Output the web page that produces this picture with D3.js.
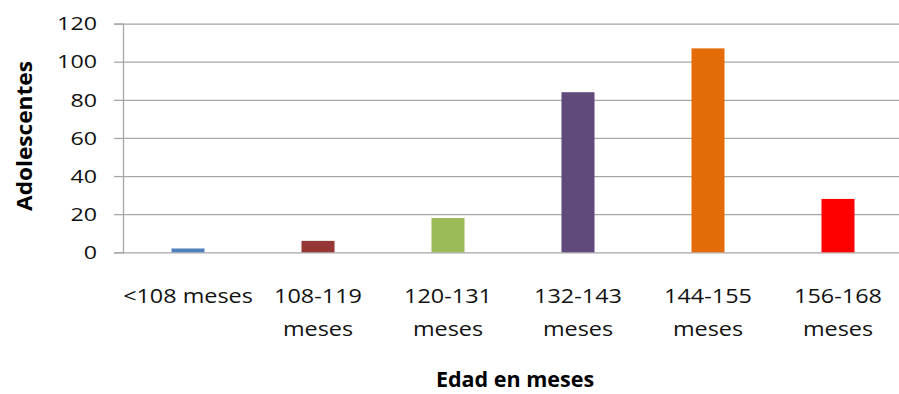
<!DOCTYPE html>
<html><head><meta charset="utf-8">
<script src="https://cdn.jsdelivr.net/npm/d3@7"></script>
<style>body{margin:0;background:#fff}svg{display:block}</style>
</head><body>
<svg id="c" width="899" height="394"></svg>
<script>
const categories = [["<108 meses"], ["108-119", "meses"], ["120-131", "meses"], ["132-143", "meses"], ["144-155", "meses"], ["156-168", "meses"]];
const values = [2, 6, 18, 84, 107, 28];
const colors = ["#4f81bd", "#953735", "#9bbb59", "#604a7b", "#e36c09", "#ff0000"];
const yTicks = [0, 20, 40, 60, 80, 100, 120];
const yTitle = "Adolescentes";
const xTitle = "Edad en meses";

const svg = d3.select("#c");
const L = 123, R = 903, T = 23.6, B = 252.3;
const FONT = "'Open Sans', sans-serif";
const keys = categories.map((c, i) => i);
const x = d3.scaleBand().domain(keys).range([L, R]).paddingInner(0.746).paddingOuter(0.373);
const y = d3.scaleLinear().domain([0, 120]).range([B, T]);

// gridlines + y axis
const yAxis = d3.axisLeft(y).tickValues(yTicks).tickSize(9).tickFormat("");
const gy = svg.append("g").attr("transform", `translate(${L},0)`).call(yAxis);
gy.select(".domain").attr("stroke", "#a6a6a6").attr("stroke-width", 1.3);
gy.selectAll(".tick line").attr("stroke", "#a6a6a6").attr("stroke-width", 1.3);
gy.selectAll(".tick").append("line").attr("x1", 0).attr("x2", R - L)
  .attr("stroke", "#a6a6a6").attr("stroke-width", 1.3);

// y tick labels
yTicks.forEach(t => {
  svg.append("text").attr("transform", `translate(97,${y(t) + 6.7}) scale(1.25,1)`)
    .attr("text-anchor", "end").attr("font-family", FONT).attr("font-size", 18.6)
    .attr("fill", "#111").text(t);
});

// bars
svg.selectAll("rect.bar").data(values).join("rect").attr("class", "bar")
  .attr("x", (d, i) => x(i)).attr("width", x.bandwidth())
  .attr("y", d => y(d)).attr("height", d => B - y(d))
  .attr("fill", (d, i) => colors[i]);

// x labels
categories.forEach((lines, i) => {
  const cx = x(i) + x.bandwidth() / 2;
  lines.forEach((ln, j) => {
    svg.append("text").attr("transform", `translate(${cx},${303 + j * 33}) scale(1.17,1)`)
      .attr("text-anchor", "middle").attr("font-family", FONT).attr("font-size", 20)
      .attr("fill", "#111").text(ln);
  });
});

// axis titles
svg.append("text").attr("transform", `translate(515,387)`)
  .attr("text-anchor", "middle").attr("font-family", FONT).attr("font-weight", "bold")
  .attr("font-size", 21.5).attr("fill", "#000").text(xTitle);
svg.append("text").attr("transform", `translate(32,136) rotate(-90) scale(1.03,1)`)
  .attr("text-anchor", "middle").attr("font-family", FONT).attr("font-weight", "bold")
  .attr("font-size", 22).attr("fill", "#000").text(yTitle);
</script>
</body></html>
